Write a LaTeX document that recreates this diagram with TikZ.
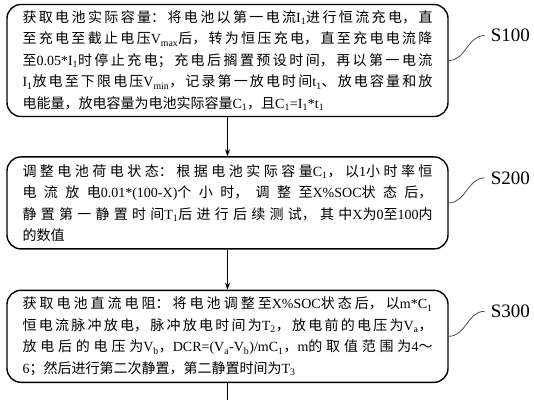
\documentclass[tikz,border=0pt]{standalone}
\usepackage{fontspec}
\setmainfont{Noto Sans CJK SC}
\newfontfamily\latinfont{Liberation Serif}
\usetikzlibrary{positioning,arrows.meta}
\XeTeXlinebreaklocale "zh"
\XeTeXlinebreakskip=0pt plus 4pt
\tolerance=9999
\hbadness=10000
\newcommand\lat[1]{\mbox{\latinfont #1}}
\newcommand\low[1]{\textsubscript{#1}}

\begin{document}
\begin{tikzpicture}[x=1pt, y=-1pt,
	stepbox/.style={draw, line width=1.4pt, rounded corners=14pt, inner xsep=10pt, inner ysep=6pt,
		minimum width=441pt, font=\fontsize{14pt}{21.5pt}\selectfont},
	steptag/.style={font=\latinfont\fontsize{19pt}{19pt}\selectfont, inner xsep=6pt},
	tagline/.style={line width=0.8pt, gray!60!black},
	flow/.style={line width=0.8pt, -{Stealth[length=7pt,width=5pt]}}]
	\useasboundingbox (0,0) rectangle (534,400);
	% S100: actual capacity
	\node[stepbox, minimum height=111pt] (box1) at (227.5,60.5) {\parbox[c]{410pt}{%
		获取电池实际容量：将电池以第一电流\lat{I\low{1}}进行恒流充电，直\linebreak
		至充电至截止电压\lat{V\low{max}}后，转为恒压充电，直至充电电流降\linebreak
		至\lat{0.05*I\low{1}}时停止充电；充电后搁置预设时间，再以第一电流\linebreak
		\lat{I\low{1}}放电至下限电压\lat{V\low{min}}，记录第一放电时间\lat{t\low{1}}、放电容量和放\linebreak
		电能量，放电容量为电池实际容量\lat{C\low{1}}，且\lat{C\low{1}=I\low{1}*t\low{1}}}\hspace{11pt}};
	% S200: state of charge
	\node[stepbox, minimum height=92pt, below=39pt of box1] (box2) {\parbox[c]{410pt}{%
		调整电池荷电状态：根据电池实际容量\lat{C\low{1}}，以\lat{1}小时率恒\linebreak
		电流放电\lat{0.01*(100-X)}个小时，调整至\lat{X\%SOC}状态后，\linebreak
		静置第一静置时间\lat{T\low{1}}后进行后续测试，其中\lat{X}为\lat{0}至\lat{100}内\linebreak
		的数值}\hspace{11pt}};
	% S300: DC resistance
	\node[stepbox, minimum height=92pt, below=40pt of box2] (box3) {\parbox[c]{410pt}{%
		获取电池直流电阻：将电池调整至\lat{X\%SOC}状态后，以\lat{m*C\low{1}}\linebreak
		恒电流脉冲放电，脉冲放电时间为\lat{T\low{2}}，放电前的电压为\lat{V\low{a}}，\linebreak
		放电后的电压为\lat{V\low{b}}，\lat{DCR=(V\low{a}-V\low{b})/mC\low{1}}，\lat{m}的取值范围为\lat{4}～\linebreak
		\lat{6}；然后进行第二次静置，第二静置时间为\lat{T\low{3}}}\hspace{11pt}};
	% step tags
	\node[steptag, anchor=west] (s100) at ([xshift=36pt, yshift=25pt]box1.east) {S100};
	\node[steptag, anchor=west] (s200) at ([xshift=36pt, yshift=25pt]box2.east) {S200};
	\node[steptag, anchor=west] (s300) at ([xshift=36pt, yshift=25pt]box3.east) {S300};
	\draw[tagline] (box1.east) to[out=0, in=180] (s100.west);
	\draw[tagline] (box2.east) to[out=0, in=180] (s200.west);
	\draw[tagline] (box3.east) to[out=0, in=180] (s300.west);
	% flow
	\coordinate (tail) at (box3.south |- 0,400);
	\draw[flow] (box1) -- (box2);
	\draw[flow] (box2) -- (box3);
	\draw[line width=0.8pt] (box3) -- (tail);
\end{tikzpicture}
\end{document}
